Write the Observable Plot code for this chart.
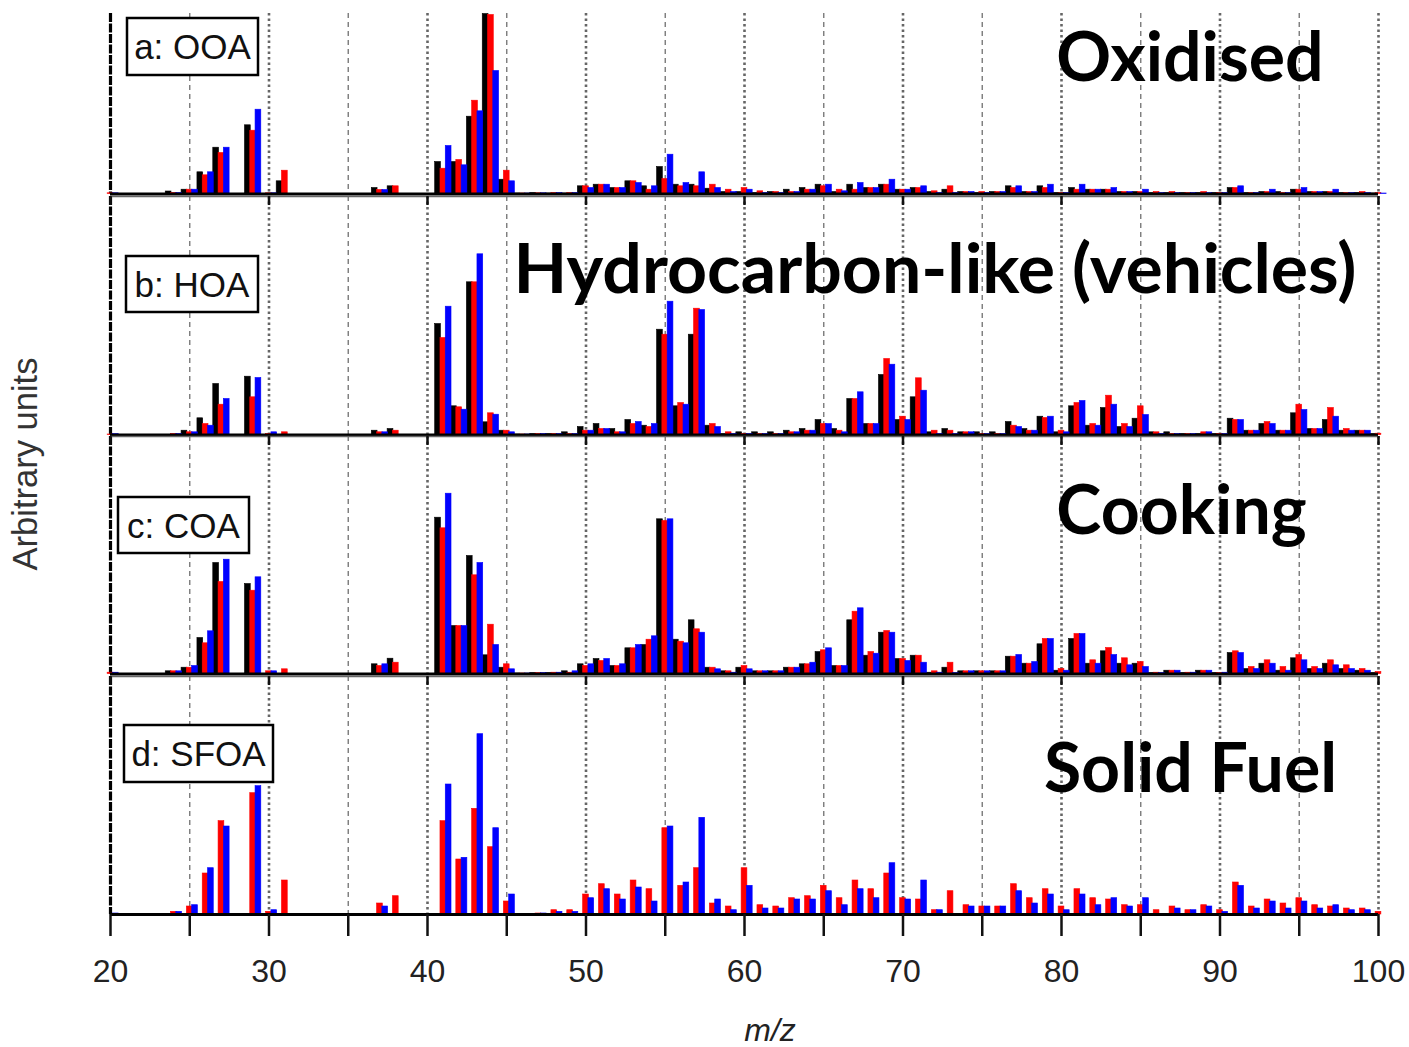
<!DOCTYPE html>
<html>
<head>
<meta charset="utf-8">
<script src="https://cdn.jsdelivr.net/npm/d3@7"></script>
<script src="https://cdn.jsdelivr.net/npm/@observablehq/plot@0.6"></script>
<style>
  html, body { margin: 0; padding: 0; background: #fff; }
  #root { position: relative; width: 1409px; height: 1047px; overflow: hidden; background: #fff; }
  #root svg.panel { position: absolute; left: 0; }
</style>
</head>
<body>
<div id="root"></div>
<script>
// m/z categories
const mz = [20,21,22,23,24,25,26,27,28,29,30,31,32,33,34,35,36,37,38,39,40,41,42,43,44,45,46,47,48,49,
  50,51,52,53,54,55,56,57,58,59,60,61,62,63,64,65,66,67,68,69,70,71,72,73,74,75,76,77,78,79,
  80,81,82,83,84,85,86,87,88,89,90,91,92,93,94,95,96,97,98,99,100];
const xTicks = [20,25,30,35,40,45,50,55,60,65,70,75,80,85,90,95,100];
const xTickLabels = [20,30,40,50,60,70,80,90,100];
const gridMajor = [30,40,50,60,70,80,90,100];
const gridMinor = [25,35,45,55,65,75,85,95];

// a: OOA (arbitrary units)
const ooaBlack = [0,0,0,0,2.5,4.3,21.7,46.3,0,68.7, 0,12.7,0,0,0,0,0,6,7.7,0,
  0,32,32,77.3,180,14.3,0.5,1,0.5,0.5, 7.7,9.3,6,12.7,7.7,27,9.3,9.3,5.3,2,
  2,1,2,4.3,6,9.3,2,9.3,6,9.3, 4.3,6,2,4.3,2,1,2,7.7,2,7.7,
  1,6,4.3,4.3,2,2,1,1,1,1, 1,6,1,2,2,4.3,2,2,1,1,0.5];
const ooaRed = [0.7,0,0,0,1,4.3,18.7,41,0,63.3, 0.7,23.3,0,0,0,0,0,4,7.7,0,
  0,25.3,34,93.3,179,23.3,0.5,0.7,1,1, 7.7,9.3,6,12.7,4.3,15,7.7,7.7,9.3,4.3,
  6,2.7,2,2,4.3,7.7,4.3,4.3,6,9.3, 4.3,6,2.7,7.7,2,2,2,6,2,6,
  1,4.3,4.3,4.3,2,2,2,2,1,2, 1,6,1,2,1,4.3,2,2,1,2,1];
const ooaBlue = [0.7,0,0,0,1,4.3,21.7,46.3,0,84.3, 0.7,0,0,0,0,0,0,4,0,0,
  0,48,28.7,82.7,123,12.7,0.5,0.7,1,1, 6,9.3,6,11,7.7,39.3,11,21.7,6,2,
  4.3,1,1,2,4.3,9.3,2.7,11,6,14.3, 4.3,7.7,1,1,2,1,2,7.7,2,9.3,
  1,9.3,4.3,6,2,4.3,1,1,1,1, 1,7.7,1,4.3,1,6,2,4.3,1,1,0.5];

// b: HOA
const hoaBlack = [0,0,0,0,0,4.3,16.7,51,0,58.3, 0,0,0,0,0,0,0,4.3,6,0,
  0,111,28.7,152.7,12.7,4.3,0.5,1,1,2.7, 8,11,6,15,9.3,105.3,28.7,100.3,9.3,1,
  2.7,2.7,2.7,4.3,6,15,6,36,11,60, 15,37.7,2.7,6,2.7,2.7,2.7,13,6,18.3,
  2.7,28.7,9.3,27,8,16.3,2.7,2.7,1,1, 1,16.3,4.3,11,4.3,21.7,6,15,4.3,4.3,1];
const hoaRed = [0.5,0,0,0,1,2.7,11,30.3,0,37.7, 1,2.7,0,0,0,0,0,2.7,4.3,0,
  0,97,27.7,152.7,21.7,4.3,0.5,1,1,1, 4.3,6,2.7,11,8,100.3,32,126.3,11,2.7,
  1,1,1,2.7,4.3,11,4.3,36,11,76, 18.3,56.7,4.3,4.3,2.7,1,1,9.3,4.3,17,
  4.3,32,11,39.3,11,28.7,2.7,1,1,2.7, 1,15,4.3,13,4.3,30.3,6,27,6,4.3,1.3];
const hoaBlue = [1,0,0,0,1,2.7,9.3,36,0,57, 2.7,0,0,0,0,0,0,2.7,0,0,
  0,128.3,25.3,180.7,20.3,2.7,0.5,1,1,1, 4.3,6,2.7,13,11,133.3,30.3,125,8,1,
  1,1,1,2.7,4.3,11,2.7,42.7,11,70.3, 15,44.3,1,1,2.7,1,1,8,4.3,18.3,
  2.7,34,9.3,30.3,8,20,1,1,1,2.7, 1,15,4.3,11,4.3,25,6,18.3,4.3,4.3,0];

// c: COA
const coaBlack = [0,0,0,0,2.7,6.3,36,111,0,90, 0,0,0,0,0,0,0,9.7,15.3,0,
  0,156.3,48,118,18.7,6.3,0.5,1,1,2.7, 9.7,15,8,25.7,29,154.7,34.3,53.7,6.3,2.7,
  6.3,2.7,2.7,6.3,9.7,22,8,53.7,18.3,41.3, 15,18.3,1.3,6.3,2.7,2.7,2.7,17.3,10.3,29.7,
  3.3,35,10.3,22.7,10.3,10.3,1,3.3,1,3.3, 1,21,5,10.3,3.3,15.7,5,10.3,5,3.3,1];
const coaRed = [1.3,0,0,0,2.7,6.3,30.7,92,0,83.3, 2.7,4.7,0,0,0,0,0,8,11.3,0,
  0,145.7,48,98.7,49.3,9.7,0.5,1,1.3,1.3, 8,13,8,25.7,34.3,153,32.3,44.7,6.3,2.7,
  8,2.7,2.7,6.3,9.7,23.7,8,62.3,22,43, 15,18.3,2.7,11.3,2.7,2.7,2.7,17.3,10.3,35,
  5,40,13.7,26,15.7,12,1.3,3.3,1.3,3.3, 1,22.7,7,13.7,7,19,7,13.7,8.7,5,2];
const coaBlue = [1.3,0,0,0,2.7,8,42.7,114.3,0,96.7, 2.7,0,0,0,0,0,0,9.7,0,0,
  0,180.3,48,111,29,4.7,0.5,1,1.3,2.7, 9.7,15,9.7,29,37.7,154.7,30.7,41.3,4.7,1.3,
  4.7,2.7,2.7,6.3,11.3,25.7,8,65.7,20.3,41.3, 13,11.3,1.3,1,2.7,2.7,2.7,19,12,35,
  3.3,40,10.3,19,8.7,7,1,3.3,1.3,3.3, 1.3,21,5,10.3,3.3,13.7,5,8.7,5,3.3,0];

// d: SFOA (red and blue only)
const sfoaRed = [0,0,0,0,2.7,8,41,93.3,0,121.3, 2.7,34,0,0,0,0,0,11,18.3,0,
  0,93.3,55,105.7,67.3,13,0,1,4.3,4.3, 20,30.3,20,34,25.3,86.3,28.7,46.3,11,8,
  46.3,9.3,8,16.3,18.3,28.7,16.3,34,25.3,41, 16.3,15,4.3,23.3,9.3,8,8,30.3,16.3,25.3,
  8,25.3,16.3,15,9.3,9.3,4.3,8,4.3,9.3, 4.3,32,8,15,11,16.3,9.3,8,6,6,2.7];
const sfoaBlue = [1,0,0,0,2.7,9.3,46.3,88,0,128.3, 4.3,0,0,0,0,0,0,8,0,0,
  0,130,56.7,180.3,86.3,20,0,1,2.7,2.7, 16.3,25.3,15,27,13,88,32,96.7,15,4.3,
  28.7,6,6,15,15,23.3,9.3,25.3,16.3,51.3, 15,34,4.3,0,8,8,8,23.3,11,20,
  4.3,20,9.3,16.3,8,16.3,0,6,4.3,8, 2.7,28.7,6,13,6,13,6,9.3,4.3,4.3,0];

const panelLabels = ["a: OOA", "b: HOA", "c: COA", "d: SFOA"];
const panelTitles = ["Oxidised", "Hydrocarbon-like (vehicles)", "Cooking", "Solid Fuel"];
const seriesColors = ["#000000", "#ff0000", "#0000ff"];

const root = document.getElementById("root");
const W = 1409;

const panels = [
  {series: [[ooaBlack, 0], [ooaRed, 1], [ooaBlue, 2]], top: 10.5, H: 180.5, topRule: false, axis: false},
  {series: [[hoaBlack, 0], [hoaRed, 1], [hoaBlue, 2]], top: 193.5, H: 238.5, topRule: true, axis: false},
  {series: [[coaBlack, 0], [coaRed, 1], [coaBlue, 2]], top: 434, H: 237.5, topRule: true, axis: false},
  {series: [[sfoaRed, 1], [sfoaBlue, 2]], top: 674, H: 238, topRule: true, axis: true}
];

panels.forEach((p) => {
  const marks = [
    Plot.ruleX(gridMinor, {stroke: "#7a7a7a", strokeWidth: 1.4, strokeDasharray: "5,4"}),
    Plot.ruleX(gridMajor, {stroke: "#666", strokeWidth: 2.6, strokeDasharray: "2.5,3"}),
    Plot.ruleX([20], {stroke: "#000", strokeWidth: 3.2, strokeDasharray: "9,1.5"})
  ];
  if (p.topRule) {
    marks.push(Plot.ruleY([p.H], {stroke: "#666", strokeWidth: 1.5}));
    marks.push(Plot.ruleX(gridMajor.concat([20]), {y1: p.H, y2: p.H - 9, stroke: "#111", strokeWidth: 2.5}));
  }
  p.series.forEach(([vals, slot]) => {
    const rows = vals.map((v, i) => ({mz: mz[i], v}));
    marks.push(Plot.rectY(rows.filter(d => d.v > 0), {
      x1: d => d.mz - 0.5 + slot / 3 - 0.015,
      x2: d => d.mz - 0.5 + (slot + 1) / 3 + 0.015,
      y1: 0, y2: "v",
      fill: seriesColors[slot],
      stroke: seriesColors[slot], strokeWidth: 0.6
    }));
  });
  marks.push(Plot.ruleY([0], {stroke: "#000", strokeWidth: 3}));
  if (p.axis) {
    marks.push(Plot.axisX({
      ticks: xTicks,
      tickFormat: d => xTickLabels.includes(d) ? String(d) : "",
      tickSize: 22, tickPadding: 23, fontSize: 32,
      stroke: "#111", strokeWidth: 2.5, fill: "#222", label: null
    }));
  }
  const mb = p.axis ? (1047 - (p.top + 2 + p.H)) : 1;
  const svg = Plot.plot({
    width: W,
    height: 2 + p.H + mb,
    marginLeft: 110, marginRight: 31, marginTop: 2, marginBottom: mb,
    style: {background: "transparent", overflow: "visible", fontFamily: "'Liberation Sans', Arial, sans-serif"},
    x: p.axis ? {domain: [20, 100]} : {domain: [20, 100], axis: null},
    y: {domain: [0, p.H], axis: null},
    marks
  });
  svg.classList.add("panel");
  svg.style.top = p.top + "px";
  root.appendChild(svg);
});

// annotation overlay: label boxes, big titles, axis titles
const ov = d3.select(root).append("svg")
  .attr("width", W).attr("height", 1047)
  .style("position", "absolute").style("left", 0).style("top", 0);

const boxes = [
  {x: 127, y: 18, w: 131, h: 57},
  {x: 126, y: 256, w: 132, h: 56},
  {x: 118, y: 497, w: 131, h: 56},
  {x: 124, y: 725, w: 149, h: 57}
];
boxes.forEach((b, i) => {
  ov.append("rect").attr("x", b.x).attr("y", b.y).attr("width", b.w).attr("height", b.h)
    .attr("fill", "#fff").attr("stroke", "#000").attr("stroke-width", 2.5);
  ov.append("text").attr("x", b.x + b.w / 2).attr("y", b.y + b.h / 2 + 12.5)
    .attr("text-anchor", "middle").attr("font-family", "'Liberation Sans', Arial, sans-serif")
    .attr("font-size", 35).attr("fill", "#111").text(panelLabels[i]);
});

const titlePos = [
  {cx: 1190, base: 81, size: 68},
  {cx: 935, base: 293, size: 69.8},
  {cx: 1181.5, base: 534, size: 68},
  {cx: 1190.5, base: 792, size: 68}
];
titlePos.forEach((t, i) => {
  ov.append("text").attr("x", t.cx).attr("y", t.base).attr("text-anchor", "middle")
    .attr("font-family", "Lato, 'Open Sans', sans-serif").attr("font-weight", 700)
    .attr("font-size", t.size).attr("fill", "#000").text(panelTitles[i]);
});

ov.append("text").attr("transform", "translate(37,464) rotate(-90)")
  .attr("text-anchor", "middle").attr("font-family", "'Liberation Sans', Arial, sans-serif")
  .attr("font-size", 34.5).attr("fill", "#333").text("Arbitrary units");

ov.append("text").attr("x", 770).attr("y", 1041).attr("text-anchor", "middle")
  .attr("font-family", "'Liberation Sans', Arial, sans-serif").attr("font-style", "italic")
  .attr("font-size", 32).attr("fill", "#222").text("m/z");
</script>
</body>
</html>
